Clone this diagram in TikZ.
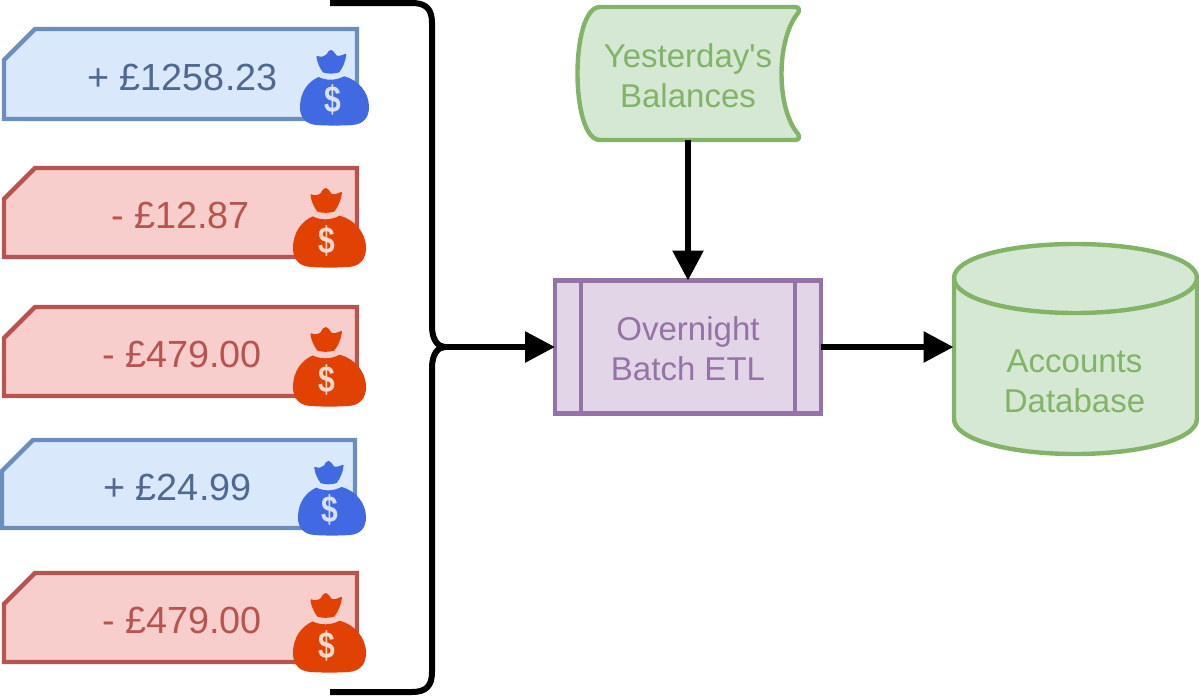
\documentclass[tikz,border=0pt]{standalone}
\usepackage{fontspec}
\setmainfont{Liberation Sans}[Ligatures=TeXOff]
\usetikzlibrary{arrows.meta}
\definecolor{bluefill}{HTML}{DAE8FC}
\definecolor{blueline}{HTML}{6C8EBF}
\definecolor{bluetext}{HTML}{50698F}
\definecolor{redfill}{HTML}{F8CECC}
\definecolor{redline}{HTML}{B85450}
\definecolor{greenfill}{HTML}{D5E8D4}
\definecolor{greenline}{HTML}{82B366}
\definecolor{purplefill}{HTML}{E1D5E7}
\definecolor{purpleline}{HTML}{9673A6}
\definecolor{bagblue}{HTML}{4169E1}
\definecolor{bagred}{HTML}{E24104}
\tikzset{
  x=1pt,y=-1pt,
  cardtext/.style={font=\fontsize{37.8}{40}\selectfont,inner sep=0pt},
  boxtext/.style={font=\fontsize{33}{40}\selectfont,align=center,inner sep=0pt,outer sep=0pt},
  shapeline/.style={line width=4.4pt,line join=round},
  link/.style={line width=6pt,-{Triangle[length=30pt,width=30pt]}},
}
\newcommand{\moneybag}[6]{% name, left, top, width, height, colour
  \begin{scope}[shift={(#2,#3)},x=#4pt,y=-#5pt]
    \filldraw[#6,line width=1.5pt,line join=round] (.25,.09) .. controls (.31,.11) and (.35,.10) .. (.39,.07)
      .. controls (.41,.03) and (.43,.01) .. (.45,.01)
      .. controls (.47,.01) and (.49,.04) .. (.52,.08)
      .. controls (.56,.10) and (.61,.08) .. (.66,.06)
      .. controls (.65,.15) and (.61,.23) .. (.56,.29)
      .. controls (.48,.31) and (.41,.31) .. (.34,.29)
      .. controls (.30,.24) and (.26,.17) .. (.25,.09) -- cycle;
    \fill[#6] (.27,.36) .. controls (.38,.41) and (.52,.41) .. (.64,.35)
      .. controls (.84,.40) and (1,.56) .. (1,.76)
      .. controls (1,.90) and (.92,.99) .. (.76,1)
      .. controls (.60,1.01) and (.40,1.01) .. (.24,1)
      .. controls (.08,.99) and (0,.90) .. (0,.76)
      .. controls (0,.56) and (.12,.42) .. (.27,.36) -- cycle;
    \node[inner sep=0pt,text=white,opacity=.8,yscale=1.25,font=\fontsize{30}{30}\selectfont\bfseries] (#1) at (.47,.665) {\$};
  \end{scope}%
}
\begin{document}
\begin{tikzpicture}
\useasboundingbox (0,0) rectangle (1199,696);
% transaction cards
\draw[shapeline,line join=miter,fill=bluefill,draw=blueline] (35,29) -- (357,29) -- (357,119) -- (4,119) -- (4,60) -- cycle;
\node[cardtext,text=bluetext] (c1) at (182.5,77) {+ £1258.23};
\draw[shapeline,line join=miter,fill=redfill,draw=redline] (35,168) -- (357,168) -- (357,257) -- (4,257) -- (4,199) -- cycle;
\node[cardtext,text=redline] (c2) at (180.5,215.5) {- £12.87};
\draw[shapeline,line join=miter,fill=redfill,draw=redline] (35,307) -- (357,307) -- (357,396) -- (4,396) -- (4,338) -- cycle;
\node[cardtext,text=redline] (c3) at (182,354.5) {- £479.00};
\draw[shapeline,line join=miter,fill=bluefill,draw=blueline] (33,440) -- (355,440) -- (355,528) -- (2,528) -- (2,471) -- cycle;
\node[cardtext,text=bluetext] (c4) at (177.5,487) {+ £24.99};
\draw[shapeline,line join=miter,fill=redfill,draw=redline] (35,573) -- (357,573) -- (357,662) -- (4,662) -- (4,604) -- cycle;
\node[cardtext,text=redline] (c5) at (182,620.5) {- £479.00};
% money bags
\moneybag{b1}{300}{50}{69}{75}{bagblue}
\moneybag{b2}{293}{188}{73}{79}{bagred}
\moneybag{b3}{293}{327}{73}{79}{bagred}
\moneybag{b4}{298}{461}{68}{74}{bagblue}
\moneybag{b5}{293}{593}{73}{79}{bagred}
% brace
\coordinate (bracetop) at (330,3);
\coordinate (bracebot) at (330,692);
\coordinate (bracetip) at (445,347);
\draw[line width=6pt,line join=round] (bracetop) -- (412,3) .. controls (426,3) and (432,9) .. (432,23) -- (432,326)
  .. controls (432,340) and (438,347) .. (bracetip)
  .. controls (438,347) and (432,354) .. (432,368) -- (432,672)
  .. controls (432,686) and (426,692) .. (412,692) -- (bracebot);
% batch process
\node[draw=purpleline,fill=purplefill,line width=4.4pt,minimum width=266pt,minimum height=133pt,outer sep=0pt,inner sep=0pt,anchor=north west] (batch) at (555,280.5) {};
\draw[line width=4.4pt,purpleline] (581,280) -- (581,413) (795,280) -- (795,413);
\node[boxtext,text=purpleline] (batchlabel) at (688,349) {Overnight\\Batch ETL};
% balances (tape)
\draw[shapeline,fill=greenfill,draw=greenline] (600,7) -- (795,7) .. controls (799,7) and (800,10) .. (798,13)
  .. controls (776,40) and (776,108) .. (798,134)
  .. controls (800,137) and (799,140) .. (795,140) -- (600,140)
  .. controls (570,140) and (570,7) .. (600,7) -- cycle;
\node[boxtext,text=greenline,minimum width=222pt,minimum height=133pt] (balances) at (688,76) {Yesterday's\\Balances};
% database
\draw[shapeline,fill=greenfill,draw=greenline] (954,278) .. controls (954,258) and (1008,244) .. (1075,244)
  .. controls (1142,244) and (1197,258) .. (1197,278) -- (1197,419)
  .. controls (1197,439) and (1142,454) .. (1075,454)
  .. controls (1008,454) and (954,439) .. (954,419) -- cycle;
\draw[shapeline,draw=greenline] (954,278) .. controls (954,298) and (1008,313) .. (1075,313)
  .. controls (1142,313) and (1197,298) .. (1197,278);
\node[boxtext,minimum width=243pt,minimum height=210pt] (db) at (1075,349) {};
\node[boxtext,text=greenline] (dblabel) at (1074.5,381.5) {Accounts\\Database};
% connectors
\coordinate (balout) at (688,140);
\draw[link] (bracetip) -- (batch.west);
\draw[link] (balout) -- (batch.north);
\draw[link] (batch.east) -- (batch.east -| db.west);
\end{tikzpicture}
\end{document}
